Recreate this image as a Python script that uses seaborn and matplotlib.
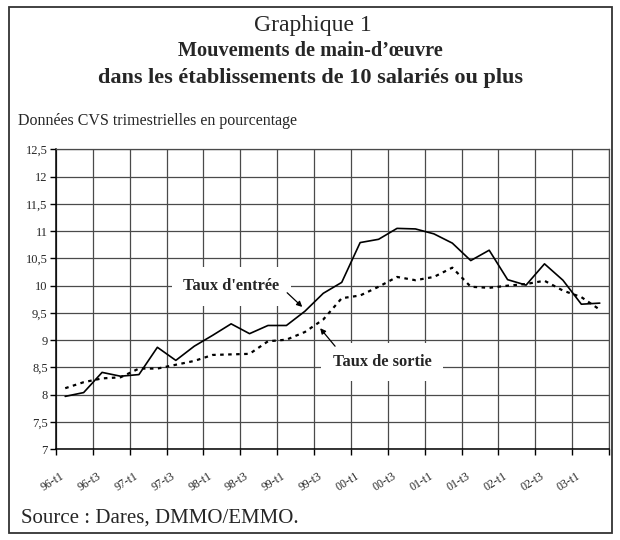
import matplotlib
matplotlib.use("Agg")
import matplotlib.pyplot as plt
import matplotlib.transforms as mtransforms
import seaborn as sns
import pandas as pd
import numpy as np
from matplotlib.patches import Rectangle

quarters = [f"{y:02d}-t{q}" for y in [96, 97, 98, 99, 0, 1, 2, 3] for q in [1, 2, 3, 4]][:30]
taux_entree = [7.97, 8.04, 8.41, 8.34, 8.37, 8.87, 8.63, 8.89, 9.09, 9.30,
               9.12, 9.27, 9.27, 9.53, 9.86, 10.06, 10.79, 10.85, 11.05, 11.04,
               10.95, 10.78, 10.46, 10.65, 10.11, 10.01, 10.40, 10.10, 9.66, 9.68]
taux_sortie = [8.12, 8.23, 8.30, 8.32, 8.48, 8.48, 8.55, 8.62, 8.73, 8.74,
               8.75, 8.98, 9.01, 9.15, 9.38, 9.77, 9.82, 9.98, 10.16, 10.10,
               10.16, 10.33, 9.98, 9.96, 10.00, 10.03, 10.09, 9.91, 9.79, 9.56]
tick_labels = quarters[::2]
y_ticks = [7, 7.5, 8, 8.5, 9, 9.5, 10, 10.5, 11, 11.5, 12, 12.5]

sns.set_style("white")
plt.rcParams['font.family'] = ['Liberation Serif', 'DejaVu Serif']

df = pd.DataFrame({"idx": np.arange(len(quarters)), "quarter": quarters,
                   "entree": taux_entree, "sortie": taux_sortie})

fig = plt.figure(figsize=(6.2, 5.4), dpi=100)
ax = fig.add_axes([56/620, 1 - 449.3/540, 553/620, 300/540])

sns.lineplot(data=df, x="idx", y="entree", ax=ax, color="black", linewidth=1.2, zorder=4)
sns.lineplot(data=df, x="idx", y="sortie", ax=ax, color="black", linewidth=1.6,
             linestyle=(0, (1.6, 2.0)), zorder=4)

n = len(quarters)
ax.set_xlim(-0.5, n - 0.5)
ax.set_ylim(7, 12.5)
bounds = np.arange(-0.5, n, 2)
ax.set_xticks(bounds)
ax.set_xticklabels([])
ax.set_xticks(np.arange(0, n, 2), minor=True)
ax.set_xticklabels(tick_labels, minor=True, rotation=32, ha="right",
                   rotation_mode="anchor", fontsize=8.5)
ax.tick_params(axis="x", which="major", length=4, width=1, direction="out", color="black")
ax.tick_params(axis="x", which="minor", length=0, pad=15)
offset = mtransforms.ScaledTranslation(-5/100, 0, fig.dpi_scale_trans)
for lbl in ax.get_xticklabels(minor=True):
    lbl.set_transform(lbl.get_transform() + offset)
ax.set_yticks(y_ticks)
ax.set_yticklabels([f"{v:g}".replace(".", ",") for v in y_ticks], fontsize=9)
ax.tick_params(axis="y", length=4, width=1, direction="out", color="black", pad=2, left=True)
ax.tick_params(axis="x", bottom=True)
ax.grid(True, which="major", color="#4a4a4a", linewidth=0.9)
ax.set_axisbelow(True)
ax.set_xlabel("")
ax.set_ylabel("")
for s in ["left", "bottom"]:
    ax.spines[s].set_color("black")
    ax.spines[s].set_linewidth(1.1)
for s in ["top", "right"]:
    ax.spines[s].set_color("#4a4a4a")
    ax.spines[s].set_linewidth(0.9)

# Annotations
arrow_kw = dict(arrowstyle="-|>", color="black", lw=0.9, mutation_scale=8, shrinkA=0, shrinkB=0)
ax.annotate("", xy=(12.86, 9.61), xytext=(12.04, 9.87), arrowprops=arrow_kw, zorder=5)
ax.text(9.0, 9.99, "Taux d'entrée", ha="center", va="center", fontsize=11.8, fontweight="bold",
        bbox=dict(boxstyle="square,pad=0.7", fc="white", ec="none"), zorder=3)
ax.annotate("", xy=(13.83, 9.22), xytext=(14.64, 8.89), arrowprops=arrow_kw, zorder=5)
ax.text(17.2, 8.6, "Taux de sortie", ha="center", va="center", fontsize=11.8, fontweight="bold",
        bbox=dict(boxstyle="square,pad=0.7", fc="white", ec="none"), zorder=3)

# Titles and texts
fig.text(0.505, 1 - 26/540, "Graphique 1", ha="center", va="center", fontsize=17)
fig.text(0.5, 1 - 51/540, "Mouvements de main-d\u2019\u0153uvre", ha="center", va="center",
         fontsize=14.6, fontweight="bold")
fig.text(0.5, 1 - 78/540, "dans les établissements de 10 salariés ou plus", ha="center",
         va="center", fontsize=16, fontweight="bold")
fig.text(18/620, 1 - 121/540, "Données CVS trimestrielles en pourcentage", ha="left",
         va="center", fontsize=11.5)
fig.text(21/620, 1 - 518/540, "Source : Dares, DMMO/EMMO.", ha="left", va="center", fontsize=15)

fig.patches.append(Rectangle((9/620, 1 - 533/540), 603/620, 526/540, transform=fig.transFigure,
                             fill=False, ec="#333333", lw=1.3))

fig.savefig("out.png", dpi=100)
